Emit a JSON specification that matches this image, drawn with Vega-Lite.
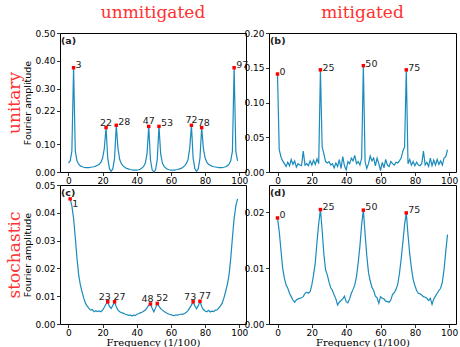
{
"$schema": "https://vega.github.io/schema/vega-lite/v6.json",
"background": "white",
"padding": {"left": 4, "top": 3, "right": 2, "bottom": 0},
"datasets": {
"spec": [
{"p":"a","f":0,"v":0.032},{"p":"a","f":1,"v":0.04},{"p":"a","f":2,"v":0.075},{"p":"a","f":3,"v":0.375},{"p":"a","f":4,"v":0.075},{"p":"a","f":5,"v":0.04},{"p":"a","f":6,"v":0.028},{"p":"a","f":7,"v":0.022},{"p":"a","f":8,"v":0.019},{"p":"a","f":9,"v":0.017},
{"p":"a","f":10,"v":0.016},{"p":"a","f":11,"v":0.016},{"p":"a","f":12,"v":0.016},{"p":"a","f":13,"v":0.017},{"p":"a","f":14,"v":0.018},{"p":"a","f":15,"v":0.019},{"p":"a","f":16,"v":0.021},{"p":"a","f":17,"v":0.024},{"p":"a","f":18,"v":0.028},{"p":"a","f":19,"v":0.035},
{"p":"a","f":20,"v":0.05},{"p":"a","f":21,"v":0.085},{"p":"a","f":22,"v":0.16},{"p":"a","f":23,"v":0.05},{"p":"a","f":24,"v":0.012},{"p":"a","f":25,"v":0.002},{"p":"a","f":26,"v":0.012},{"p":"a","f":27,"v":0.05},{"p":"a","f":28,"v":0.168},{"p":"a","f":29,"v":0.085},
{"p":"a","f":30,"v":0.045},{"p":"a","f":31,"v":0.03},{"p":"a","f":32,"v":0.022},{"p":"a","f":33,"v":0.017},{"p":"a","f":34,"v":0.013},{"p":"a","f":35,"v":0.011},{"p":"a","f":36,"v":0.009},{"p":"a","f":37,"v":0.008},{"p":"a","f":38,"v":0.007},{"p":"a","f":39,"v":0.007},
{"p":"a","f":40,"v":0.007},{"p":"a","f":41,"v":0.008},{"p":"a","f":42,"v":0.01},{"p":"a","f":43,"v":0.014},{"p":"a","f":44,"v":0.02},{"p":"a","f":45,"v":0.032},{"p":"a","f":46,"v":0.065},{"p":"a","f":47,"v":0.164},{"p":"a","f":48,"v":0.045},{"p":"a","f":49,"v":0.008},
{"p":"a","f":50,"v":0.0},{"p":"a","f":51,"v":0.008},{"p":"a","f":52,"v":0.045},{"p":"a","f":53,"v":0.164},{"p":"a","f":54,"v":0.065},{"p":"a","f":55,"v":0.032},{"p":"a","f":56,"v":0.02},{"p":"a","f":57,"v":0.014},{"p":"a","f":58,"v":0.01},{"p":"a","f":59,"v":0.008},
{"p":"a","f":60,"v":0.007},{"p":"a","f":61,"v":0.007},{"p":"a","f":62,"v":0.007},{"p":"a","f":63,"v":0.008},{"p":"a","f":64,"v":0.009},{"p":"a","f":65,"v":0.011},{"p":"a","f":66,"v":0.013},{"p":"a","f":67,"v":0.017},{"p":"a","f":68,"v":0.022},{"p":"a","f":69,"v":0.03},
{"p":"a","f":70,"v":0.045},{"p":"a","f":71,"v":0.085},{"p":"a","f":72,"v":0.168},{"p":"a","f":73,"v":0.05},{"p":"a","f":74,"v":0.012},{"p":"a","f":75,"v":0.002},{"p":"a","f":76,"v":0.012},{"p":"a","f":77,"v":0.05},{"p":"a","f":78,"v":0.16},{"p":"a","f":79,"v":0.085},
{"p":"a","f":80,"v":0.05},{"p":"a","f":81,"v":0.035},{"p":"a","f":82,"v":0.028},{"p":"a","f":83,"v":0.024},{"p":"a","f":84,"v":0.021},{"p":"a","f":85,"v":0.019},{"p":"a","f":86,"v":0.018},{"p":"a","f":87,"v":0.017},{"p":"a","f":88,"v":0.016},{"p":"a","f":89,"v":0.016},
{"p":"a","f":90,"v":0.016},{"p":"a","f":91,"v":0.017},{"p":"a","f":92,"v":0.019},{"p":"a","f":93,"v":0.022},{"p":"a","f":94,"v":0.028},{"p":"a","f":95,"v":0.04},{"p":"a","f":96,"v":0.075},{"p":"a","f":97,"v":0.375},{"p":"a","f":98,"v":0.075},{"p":"a","f":99,"v":0.04},
{"p":"b","f":0,"v":0.141},{"p":"b","f":1,"v":0.032},{"p":"b","f":2,"v":0.022},{"p":"b","f":3,"v":0.016},{"p":"b","f":4,"v":0.012},{"p":"b","f":5,"v":0.008},{"p":"b","f":6,"v":0.014},{"p":"b","f":7,"v":0.009},{"p":"b","f":8,"v":0.018},{"p":"b","f":9,"v":0.011},
{"p":"b","f":10,"v":0.016},{"p":"b","f":11,"v":0.007},{"p":"b","f":12,"v":0.012},{"p":"b","f":13,"v":0.01},{"p":"b","f":14,"v":0.009},{"p":"b","f":15,"v":0.03},{"p":"b","f":16,"v":0.01},{"p":"b","f":17,"v":0.012},{"p":"b","f":18,"v":0.009},{"p":"b","f":19,"v":0.016},
{"p":"b","f":20,"v":0.01},{"p":"b","f":21,"v":0.017},{"p":"b","f":22,"v":0.011},{"p":"b","f":23,"v":0.019},{"p":"b","f":24,"v":0.012},{"p":"b","f":25,"v":0.147},{"p":"b","f":26,"v":0.036},{"p":"b","f":27,"v":0.026},{"p":"b","f":28,"v":0.015},{"p":"b","f":29,"v":0.013},
{"p":"b","f":30,"v":0.015},{"p":"b","f":31,"v":0.01},{"p":"b","f":32,"v":0.012},{"p":"b","f":33,"v":0.006},{"p":"b","f":34,"v":0.013},{"p":"b","f":35,"v":0.008},{"p":"b","f":36,"v":0.018},{"p":"b","f":37,"v":0.005},{"p":"b","f":38,"v":0.022},{"p":"b","f":39,"v":0.009},
{"p":"b","f":40,"v":0.003},{"p":"b","f":41,"v":0.015},{"p":"b","f":42,"v":0.012},{"p":"b","f":43,"v":0.02},{"p":"b","f":44,"v":0.016},{"p":"b","f":45,"v":0.024},{"p":"b","f":46,"v":0.012},{"p":"b","f":47,"v":0.015},{"p":"b","f":48,"v":0.01},{"p":"b","f":49,"v":0.02},
{"p":"b","f":50,"v":0.153},{"p":"b","f":51,"v":0.015},{"p":"b","f":52,"v":0.005},{"p":"b","f":53,"v":0.012},{"p":"b","f":54,"v":0.023},{"p":"b","f":55,"v":0.016},{"p":"b","f":56,"v":0.02},{"p":"b","f":57,"v":0.009},{"p":"b","f":58,"v":0.02},{"p":"b","f":59,"v":0.012},
{"p":"b","f":60,"v":0.002},{"p":"b","f":61,"v":0.014},{"p":"b","f":62,"v":0.006},{"p":"b","f":63,"v":0.018},{"p":"b","f":64,"v":0.01},{"p":"b","f":65,"v":0.008},{"p":"b","f":66,"v":0.015},{"p":"b","f":67,"v":0.012},{"p":"b","f":68,"v":0.01},{"p":"b","f":69,"v":0.014},
{"p":"b","f":70,"v":0.013},{"p":"b","f":71,"v":0.016},{"p":"b","f":72,"v":0.02},{"p":"b","f":73,"v":0.03},{"p":"b","f":74,"v":0.036},{"p":"b","f":75,"v":0.147},{"p":"b","f":76,"v":0.012},{"p":"b","f":77,"v":0.018},{"p":"b","f":78,"v":0.01},{"p":"b","f":79,"v":0.015},
{"p":"b","f":80,"v":0.009},{"p":"b","f":81,"v":0.014},{"p":"b","f":82,"v":0.01},{"p":"b","f":83,"v":0.009},{"p":"b","f":84,"v":0.012},{"p":"b","f":85,"v":0.03},{"p":"b","f":86,"v":0.01},{"p":"b","f":87,"v":0.014},{"p":"b","f":88,"v":0.008},{"p":"b","f":89,"v":0.02},
{"p":"b","f":90,"v":0.009},{"p":"b","f":91,"v":0.017},{"p":"b","f":92,"v":0.01},{"p":"b","f":93,"v":0.018},{"p":"b","f":94,"v":0.011},{"p":"b","f":95,"v":0.016},{"p":"b","f":96,"v":0.01},{"p":"b","f":97,"v":0.02},{"p":"b","f":98,"v":0.022},{"p":"b","f":99,"v":0.032},
{"p":"c","f":1,"v":0.045},{"p":"c","f":2,"v":0.0425},{"p":"c","f":3,"v":0.038},{"p":"c","f":4,"v":0.031},{"p":"c","f":5,"v":0.0236},{"p":"c","f":6,"v":0.0176},{"p":"c","f":7,"v":0.014},{"p":"c","f":8,"v":0.0115},{"p":"c","f":9,"v":0.0092},
{"p":"c","f":10,"v":0.0074},{"p":"c","f":11,"v":0.0064},{"p":"c","f":12,"v":0.0056},{"p":"c","f":13,"v":0.005},{"p":"c","f":14,"v":0.0052},{"p":"c","f":15,"v":0.0044},{"p":"c","f":16,"v":0.0048},{"p":"c","f":17,"v":0.0045},{"p":"c","f":18,"v":0.0047},{"p":"c","f":19,"v":0.0044},
{"p":"c","f":20,"v":0.005},{"p":"c","f":21,"v":0.006},{"p":"c","f":22,"v":0.0072},{"p":"c","f":23,"v":0.008},{"p":"c","f":24,"v":0.0063},{"p":"c","f":25,"v":0.0056},{"p":"c","f":26,"v":0.0067},{"p":"c","f":27,"v":0.008},{"p":"c","f":28,"v":0.0062},{"p":"c","f":29,"v":0.005},
{"p":"c","f":30,"v":0.0044},{"p":"c","f":31,"v":0.0041},{"p":"c","f":32,"v":0.0039},{"p":"c","f":33,"v":0.0036},{"p":"c","f":34,"v":0.0034},{"p":"c","f":35,"v":0.0031},{"p":"c","f":36,"v":0.0033},{"p":"c","f":37,"v":0.0029},{"p":"c","f":38,"v":0.0032},{"p":"c","f":39,"v":0.003},
{"p":"c","f":40,"v":0.0035},{"p":"c","f":41,"v":0.0037},{"p":"c","f":42,"v":0.004},{"p":"c","f":43,"v":0.0042},{"p":"c","f":44,"v":0.0046},{"p":"c","f":45,"v":0.005},{"p":"c","f":46,"v":0.0058},{"p":"c","f":47,"v":0.0068},{"p":"c","f":48,"v":0.0072},{"p":"c","f":49,"v":0.0057},
{"p":"c","f":50,"v":0.0044},{"p":"c","f":51,"v":0.0058},{"p":"c","f":52,"v":0.0074},{"p":"c","f":53,"v":0.0064},{"p":"c","f":54,"v":0.0055},{"p":"c","f":55,"v":0.005},{"p":"c","f":56,"v":0.0045},{"p":"c","f":57,"v":0.0041},{"p":"c","f":58,"v":0.0038},{"p":"c","f":59,"v":0.0035},
{"p":"c","f":60,"v":0.0034},{"p":"c","f":61,"v":0.0031},{"p":"c","f":62,"v":0.003},{"p":"c","f":63,"v":0.0033},{"p":"c","f":64,"v":0.0032},{"p":"c","f":65,"v":0.0034},{"p":"c","f":66,"v":0.0036},{"p":"c","f":67,"v":0.0035},{"p":"c","f":68,"v":0.0038},{"p":"c","f":69,"v":0.0042},
{"p":"c","f":70,"v":0.0048},{"p":"c","f":71,"v":0.0058},{"p":"c","f":72,"v":0.0068},{"p":"c","f":73,"v":0.008},{"p":"c","f":74,"v":0.0065},{"p":"c","f":75,"v":0.0055},{"p":"c","f":76,"v":0.0066},{"p":"c","f":77,"v":0.0082},{"p":"c","f":78,"v":0.0063},{"p":"c","f":79,"v":0.0052},
{"p":"c","f":80,"v":0.0047},{"p":"c","f":81,"v":0.0044},{"p":"c","f":82,"v":0.0049},{"p":"c","f":83,"v":0.0043},{"p":"c","f":84,"v":0.0046},{"p":"c","f":85,"v":0.0045},{"p":"c","f":86,"v":0.005},{"p":"c","f":87,"v":0.0051},{"p":"c","f":88,"v":0.0057},{"p":"c","f":89,"v":0.0065},
{"p":"c","f":90,"v":0.0075},{"p":"c","f":91,"v":0.0093},{"p":"c","f":92,"v":0.0116},{"p":"c","f":93,"v":0.0142},{"p":"c","f":94,"v":0.0175},{"p":"c","f":95,"v":0.0235},{"p":"c","f":96,"v":0.031},{"p":"c","f":97,"v":0.038},{"p":"c","f":98,"v":0.0425},{"p":"c","f":99,"v":0.045},
{"p":"d","f":0,"v":0.019},{"p":"d","f":1,"v":0.0166},{"p":"d","f":2,"v":0.0133},{"p":"d","f":3,"v":0.01},{"p":"d","f":4,"v":0.0082},{"p":"d","f":5,"v":0.007},{"p":"d","f":6,"v":0.0064},{"p":"d","f":7,"v":0.0055},{"p":"d","f":8,"v":0.0049},{"p":"d","f":9,"v":0.0043},
{"p":"d","f":10,"v":0.0039},{"p":"d","f":11,"v":0.0043},{"p":"d","f":12,"v":0.0045},{"p":"d","f":13,"v":0.0046},{"p":"d","f":14,"v":0.0047},{"p":"d","f":15,"v":0.0049},{"p":"d","f":16,"v":0.0055},{"p":"d","f":17,"v":0.0057},{"p":"d","f":18,"v":0.0055},{"p":"d","f":19,"v":0.0058},
{"p":"d","f":20,"v":0.007},{"p":"d","f":21,"v":0.0088},{"p":"d","f":22,"v":0.011},{"p":"d","f":23,"v":0.0147},{"p":"d","f":24,"v":0.018},{"p":"d","f":25,"v":0.0205},{"p":"d","f":26,"v":0.0168},{"p":"d","f":27,"v":0.0125},{"p":"d","f":28,"v":0.0097},{"p":"d","f":29,"v":0.0088},
{"p":"d","f":30,"v":0.0075},{"p":"d","f":31,"v":0.0065},{"p":"d","f":32,"v":0.006},{"p":"d","f":33,"v":0.0052},{"p":"d","f":34,"v":0.0045},{"p":"d","f":35,"v":0.0034},{"p":"d","f":36,"v":0.0039},{"p":"d","f":37,"v":0.0042},{"p":"d","f":38,"v":0.0045},{"p":"d","f":39,"v":0.005},
{"p":"d","f":40,"v":0.004},{"p":"d","f":41,"v":0.0038},{"p":"d","f":42,"v":0.0045},{"p":"d","f":43,"v":0.0055},{"p":"d","f":44,"v":0.0062},{"p":"d","f":45,"v":0.007},{"p":"d","f":46,"v":0.0085},{"p":"d","f":47,"v":0.011},{"p":"d","f":48,"v":0.014},{"p":"d","f":49,"v":0.0178},
{"p":"d","f":50,"v":0.0204},{"p":"d","f":51,"v":0.0162},{"p":"d","f":52,"v":0.0122},{"p":"d","f":53,"v":0.0092},{"p":"d","f":54,"v":0.0077},{"p":"d","f":55,"v":0.0066},{"p":"d","f":56,"v":0.006},{"p":"d","f":57,"v":0.005},{"p":"d","f":58,"v":0.0047},{"p":"d","f":59,"v":0.0037},
{"p":"d","f":60,"v":0.0049},{"p":"d","f":61,"v":0.0046},{"p":"d","f":62,"v":0.0045},{"p":"d","f":63,"v":0.0041},{"p":"d","f":64,"v":0.004},{"p":"d","f":65,"v":0.0039},{"p":"d","f":66,"v":0.0043},{"p":"d","f":67,"v":0.0053},{"p":"d","f":68,"v":0.0056},{"p":"d","f":69,"v":0.0062},
{"p":"d","f":70,"v":0.0071},{"p":"d","f":71,"v":0.009},{"p":"d","f":72,"v":0.0116},{"p":"d","f":73,"v":0.0146},{"p":"d","f":74,"v":0.0178},{"p":"d","f":75,"v":0.0199},{"p":"d","f":76,"v":0.016},{"p":"d","f":77,"v":0.0126},{"p":"d","f":78,"v":0.01},{"p":"d","f":79,"v":0.008},
{"p":"d","f":80,"v":0.0069},{"p":"d","f":81,"v":0.006},{"p":"d","f":82,"v":0.0055},{"p":"d","f":83,"v":0.0054},{"p":"d","f":84,"v":0.0052},{"p":"d","f":85,"v":0.0049},{"p":"d","f":86,"v":0.0048},{"p":"d","f":87,"v":0.0046},{"p":"d","f":88,"v":0.0042},{"p":"d","f":89,"v":0.0046},
{"p":"d","f":90,"v":0.0035},{"p":"d","f":91,"v":0.0045},{"p":"d","f":92,"v":0.005},{"p":"d","f":93,"v":0.0055},{"p":"d","f":94,"v":0.006},{"p":"d","f":95,"v":0.0064},{"p":"d","f":96,"v":0.0075},{"p":"d","f":97,"v":0.0098},{"p":"d","f":98,"v":0.013},{"p":"d","f":99,"v":0.016}
],
"peaks": [
{"p":"a","f":3,"v":0.375,"label":"3"},{"p":"a","f":22,"v":0.16,"label":"22"},{"p":"a","f":28,"v":0.168,"label":"28"},{"p":"a","f":47,"v":0.164,"label":"47"},{"p":"a","f":53,"v":0.164,"label":"53"},{"p":"a","f":72,"v":0.168,"label":"72"},{"p":"a","f":78,"v":0.16,"label":"78"},{"p":"a","f":97,"v":0.375,"label":"97"},
{"p":"b","f":0,"v":0.141,"label":"0"},{"p":"b","f":25,"v":0.147,"label":"25"},{"p":"b","f":50,"v":0.153,"label":"50"},{"p":"b","f":75,"v":0.147,"label":"75"},
{"p":"c","f":1,"v":0.045,"label":"1"},{"p":"c","f":23,"v":0.008,"label":"23"},{"p":"c","f":27,"v":0.008,"label":"27"},{"p":"c","f":48,"v":0.0072,"label":"48"},{"p":"c","f":52,"v":0.0074,"label":"52"},{"p":"c","f":73,"v":0.008,"label":"73"},{"p":"c","f":77,"v":0.0082,"label":"77"},
{"p":"d","f":0,"v":0.019,"label":"0"},{"p":"d","f":25,"v":0.0205,"label":"25"},{"p":"d","f":50,"v":0.0204,"label":"50"},{"p":"d","f":75,"v":0.0199,"label":"75"}
],
"tags": [{"p":"a","label":"(a)"},{"p":"b","label":"(b)"},{"p":"c","label":"(c)"},{"p":"d","label":"(d)"}]
},
"columns": 2,
"bounds": "flush",
"spacing": {"row": 13, "column": 23},
"concat": [
{
"width": 186, "height": 139,
"title": {"text": "unmitigated", "offset": 7},
"layer": [
{"layer": [
{"data": {"name": "spec"}, "transform": [{"filter": "datum.p == 'a'"}],
 "mark": {"type": "line", "color": "#1b8bbd", "strokeWidth": 1.2},
 "encoding": {
  "x": {"field": "f", "type": "quantitative", "scale": {"domain": [-4.95, 103.95], "nice": false, "zero": false}, "axis": {"values": [0,20,40,60,80,100], "tickCount": 50, "title": null}},
  "y": {"field": "v", "type": "quantitative", "scale": {"domain": [0, 0.5], "nice": false}, "axis": {"values": [0,0.1,0.22,0.3,0.4,0.5], "tickCount": 50, "format": ".2f", "title": "Fourier amplitude"}}}},
{"data": {"name": "peaks"}, "transform": [{"filter": "datum.p == 'a'"}],
 "mark": {"type": "point", "shape": "square", "filled": true, "color": "red", "size": 12, "opacity": 1},
 "encoding": {"x": {"field": "f", "type": "quantitative"}, "y": {"field": "v", "type": "quantitative"}}},
{"data": {"name": "peaks"}, "transform": [{"filter": "datum.p == 'a' && indexof(['3','28','53','97'], datum.label) >= 0"}],
 "mark": {"type": "text", "align": "left", "baseline": "alphabetic", "dx": 2, "dy": 0},
 "encoding": {"x": {"field": "f", "type": "quantitative"}, "y": {"field": "v", "type": "quantitative"}, "text": {"field": "label"}}},
{"data": {"name": "peaks"}, "transform": [{"filter": "datum.p == 'a' && indexof(['22','47','72'], datum.label) >= 0"}],
 "mark": {"type": "text", "align": "center", "baseline": "alphabetic", "dx": 0, "dy": -2},
 "encoding": {"x": {"field": "f", "type": "quantitative"}, "y": {"field": "v", "type": "quantitative"}, "text": {"field": "label"}}},
{"data": {"name": "peaks"}, "transform": [{"filter": "datum.p == 'a' && datum.label == '78'"}],
 "mark": {"type": "text", "align": "left", "baseline": "alphabetic", "dx": -4, "dy": -2},
 "encoding": {"x": {"field": "f", "type": "quantitative"}, "y": {"field": "v", "type": "quantitative"}, "text": {"field": "label"}}},
{"data": {"name": "tags"}, "transform": [{"filter": "datum.p == 'a'"}],
 "mark": {"type": "text", "align": "left", "baseline": "top", "fontWeight": "bold", "dx": 1, "dy": 3},
 "encoding": {"x": {"datum": -4.95}, "y": {"datum": 0.5}, "text": {"field": "label"}}}
]},
{"data": {"name": "tags"}, "transform": [{"filter": "datum.p == 'a'"}],
 "mark": {"type": "rule", "opacity": 0},
 "encoding": {"y": {"datum": 0, "type": "quantitative", "scale": {"domain": [0, 1]}, "axis": {"orient": "left", "title": "unitary", "labels": false, "ticks": false, "domain": false, "titleFont": "DejaVu Serif", "titleFontSize": 17, "titleColor": "#ff3030", "titlePadding": 37}}}}
],
"resolve": {"scale": {"y": "independent"}, "axis": {"y": "independent"}}
},
{
"width": 187, "height": 139,
"title": {"text": "mitigated", "offset": 7},
"layer": [
{"data": {"name": "spec"}, "transform": [{"filter": "datum.p == 'b'"}],
 "mark": {"type": "line", "color": "#1b8bbd", "strokeWidth": 1.2},
 "encoding": {
  "x": {"field": "f", "type": "quantitative", "scale": {"domain": [-4.95, 103.95], "nice": false, "zero": false}, "axis": {"values": [0,20,40,60,80,100], "tickCount": 50, "title": null}},
  "y": {"field": "v", "type": "quantitative", "scale": {"domain": [0, 0.2], "nice": false}, "axis": {"values": [0,0.05,0.1,0.15,0.2], "tickCount": 50, "format": ".2f", "title": null}}}},
{"data": {"name": "peaks"}, "transform": [{"filter": "datum.p == 'b'"}],
 "mark": {"type": "point", "shape": "square", "filled": true, "color": "red", "size": 12, "opacity": 1},
 "encoding": {"x": {"field": "f", "type": "quantitative"}, "y": {"field": "v", "type": "quantitative"}}},
{"data": {"name": "peaks"}, "transform": [{"filter": "datum.p == 'b'"}],
 "mark": {"type": "text", "align": "left", "baseline": "alphabetic", "dx": 2, "dy": 1},
 "encoding": {"x": {"field": "f", "type": "quantitative"}, "y": {"field": "v", "type": "quantitative"}, "text": {"field": "label"}}},
{"data": {"name": "tags"}, "transform": [{"filter": "datum.p == 'b'"}],
 "mark": {"type": "text", "align": "left", "baseline": "top", "fontWeight": "bold", "dx": 1, "dy": 3},
 "encoding": {"x": {"datum": -4.95}, "y": {"datum": 0.2}, "text": {"field": "label"}}}
]
},
{
"width": 186, "height": 139,
"layer": [
{"layer": [
{"data": {"name": "spec"}, "transform": [{"filter": "datum.p == 'c'"}],
 "mark": {"type": "line", "color": "#1b8bbd", "strokeWidth": 1.2},
 "encoding": {
  "x": {"field": "f", "type": "quantitative", "scale": {"domain": [-4.95, 103.95], "nice": false, "zero": false}, "axis": {"values": [0,20,40,60,80,100], "tickCount": 50, "title": "Frequency (1/100)"}},
  "y": {"field": "v", "type": "quantitative", "scale": {"domain": [0, 0.05], "nice": false}, "axis": {"values": [0,0.01,0.02,0.03,0.04,0.05], "tickCount": 50, "format": ".2f", "title": "Fourier amplitude"}}}},
{"data": {"name": "peaks"}, "transform": [{"filter": "datum.p == 'c'"}],
 "mark": {"type": "point", "shape": "square", "filled": true, "color": "red", "size": 12, "opacity": 1},
 "encoding": {"x": {"field": "f", "type": "quantitative"}, "y": {"field": "v", "type": "quantitative"}}},
{"data": {"name": "peaks"}, "transform": [{"filter": "datum.p == 'c' && indexof(['27','52','77'], datum.label) >= 0"}],
 "mark": {"type": "text", "align": "left", "baseline": "alphabetic", "dx": -1, "dy": -2},
 "encoding": {"x": {"field": "f", "type": "quantitative"}, "y": {"field": "v", "type": "quantitative"}, "text": {"field": "label"}}},
{"data": {"name": "peaks"}, "transform": [{"filter": "datum.p == 'c' && indexof(['23','48','73'], datum.label) >= 0"}],
 "mark": {"type": "text", "align": "center", "baseline": "alphabetic", "dx": -3, "dy": -2},
 "encoding": {"x": {"field": "f", "type": "quantitative"}, "y": {"field": "v", "type": "quantitative"}, "text": {"field": "label"}}},
{"data": {"name": "peaks"}, "transform": [{"filter": "datum.p == 'c' && datum.label == '1'"}],
 "mark": {"type": "text", "align": "left", "baseline": "top", "dx": 2, "dy": 0},
 "encoding": {"x": {"field": "f", "type": "quantitative"}, "y": {"field": "v", "type": "quantitative"}, "text": {"field": "label"}}},
{"data": {"name": "tags"}, "transform": [{"filter": "datum.p == 'c'"}],
 "mark": {"type": "text", "align": "left", "baseline": "top", "fontWeight": "bold", "dx": 1, "dy": 3},
 "encoding": {"x": {"datum": -4.95}, "y": {"datum": 0.05}, "text": {"field": "label"}}}
]},
{"data": {"name": "tags"}, "transform": [{"filter": "datum.p == 'c'"}],
 "mark": {"type": "rule", "opacity": 0},
 "encoding": {"y": {"datum": 0, "type": "quantitative", "scale": {"domain": [0, 1]}, "axis": {"orient": "left", "title": "stochastic", "labels": false, "ticks": false, "domain": false, "titleFont": "DejaVu Serif", "titleFontSize": 17, "titleColor": "#ff3030", "titlePadding": 37}}}}
],
"resolve": {"scale": {"y": "independent"}, "axis": {"y": "independent"}}
},
{
"width": 187, "height": 139,
"layer": [
{"data": {"name": "spec"}, "transform": [{"filter": "datum.p == 'd'"}],
 "mark": {"type": "line", "color": "#1b8bbd", "strokeWidth": 1.2},
 "encoding": {
  "x": {"field": "f", "type": "quantitative", "scale": {"domain": [-4.95, 103.95], "nice": false, "zero": false}, "axis": {"values": [0,20,40,60,80,100], "tickCount": 50, "title": "Frequency (1/100)"}},
  "y": {"field": "v", "type": "quantitative", "scale": {"domain": [0, 0.0249], "nice": false}, "axis": {"values": [0,0.01,0.02], "tickCount": 50, "format": ".2f", "title": null}}}},
{"data": {"name": "peaks"}, "transform": [{"filter": "datum.p == 'd'"}],
 "mark": {"type": "point", "shape": "square", "filled": true, "color": "red", "size": 12, "opacity": 1},
 "encoding": {"x": {"field": "f", "type": "quantitative"}, "y": {"field": "v", "type": "quantitative"}}},
{"data": {"name": "peaks"}, "transform": [{"filter": "datum.p == 'd'"}],
 "mark": {"type": "text", "align": "left", "baseline": "alphabetic", "dx": 2, "dy": 0},
 "encoding": {"x": {"field": "f", "type": "quantitative"}, "y": {"field": "v", "type": "quantitative"}, "text": {"field": "label"}}},
{"data": {"name": "tags"}, "transform": [{"filter": "datum.p == 'd'"}],
 "mark": {"type": "text", "align": "left", "baseline": "top", "fontWeight": "bold", "dx": 1, "dy": 3},
 "encoding": {"x": {"datum": -4.95}, "y": {"datum": 0.0249}, "text": {"field": "label"}}}
]
}
],
"config": {
 "view": {"stroke": "black", "strokeWidth": 1},
 "axis": {"domain": false, "grid": false, "tickColor": "black", "tickSize": 3.5, "tickWidth": 0.8, "labelFont": "DejaVu Sans", "labelFontSize": 9, "labelColor": "black", "labelPadding": 1.5, "labelOverlap": false, "labelFlush": false, "titleFont": "DejaVu Sans", "titleFontSize": 9.5, "titleFontWeight": "normal", "titleColor": "black", "titlePadding": 2},
 "axisX": {"titleFont": "DejaVu Serif", "titleFontSize": 10, "titlePadding": 0, "labelPadding": 0.5},
 "title": {"font": "DejaVu Serif", "fontSize": 17, "fontWeight": "normal", "color": "#ff3030"},
 "text": {"font": "DejaVu Sans", "fontSize": 9.5, "color": "#222222"}
}
}
